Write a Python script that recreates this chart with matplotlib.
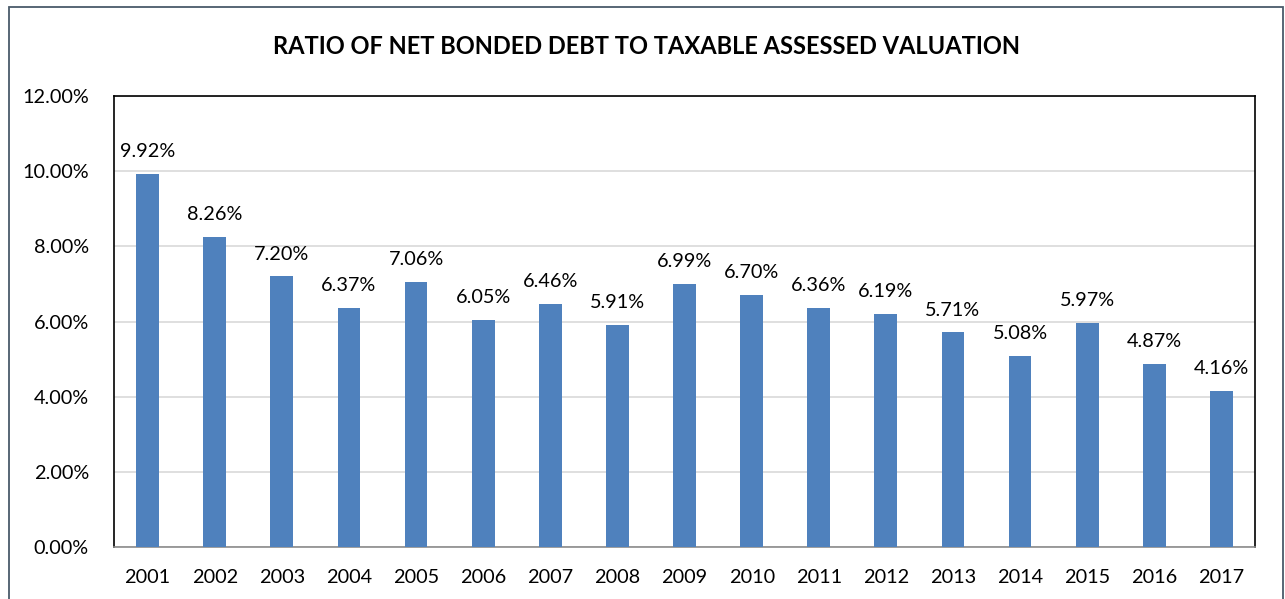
import matplotlib
matplotlib.use("Agg")
import matplotlib.pyplot as plt
from matplotlib.patches import Rectangle
from matplotlib.ticker import FuncFormatter, MultipleLocator

years = ["2001", "2002", "2003", "2004", "2005", "2006", "2007", "2008", "2009",
         "2010", "2011", "2012", "2013", "2014", "2015", "2016", "2017"]
ratios = [9.92, 8.26, 7.20, 6.37, 7.06, 6.05, 6.46, 5.91, 6.99,
          6.70, 6.36, 6.19, 5.71, 5.08, 5.97, 4.87, 4.16]
title = "RATIO OF NET BONDED DEBT TO TAXABLE ASSESSED VALUATION"

plt.rcParams['font.family'] = ['Lato', 'DejaVu Sans']

W, H = 1285, 599
fig = plt.figure(figsize=(W / 100, H / 100), dpi=100)
fig.patch.set_facecolor('white')

# outer chart border (extends below bottom edge)
fig.add_artist(Rectangle((9 / W, -0.05), (1283 - 9) / W, 1.05 - 7 / H,
                         transform=fig.transFigure, fill=False,
                         edgecolor='#4a5a6a', linewidth=1.3))

left, right, top, bottom = 114, 1255, 96, 547
ax = fig.add_axes([left / W, 1 - bottom / H, (right - left) / W, (bottom - top) / H])

x = range(len(years))
ax.bar(x, ratios, width=0.34, color='#4F81BD', zorder=3)
ax.set_xlim(-0.5, len(years) - 0.5)
ax.set_ylim(0, 12)
ax.yaxis.set_major_locator(MultipleLocator(2))
ax.yaxis.set_major_formatter(FuncFormatter(lambda v, p: f"{v:.2f}%"))
ax.set_xticks(list(x))
ax.set_xticklabels(years)
ax.grid(axis='y', color='#d9d9d9', linewidth=1.2, zorder=0)
ax.tick_params(axis='both', length=0, labelsize=14.3, colors='black')
ax.tick_params(axis='y', pad=18)
ax.tick_params(axis='x', pad=16)
for s in ax.spines.values():
    s.set_color('black')
    s.set_linewidth(1.2)
ax.spines['bottom'].set_color('#8c8c8c')

for xi, v in zip(x, ratios):
    ax.annotate(f"{v:.2f}%", (xi, v), xytext=(0, 10), textcoords='offset points',
                ha='center', va='bottom', fontsize=14.3)

fig.text(0.5 * (272 + 1021) / W, 1 - 46 / H, title, ha='center', va='center',
         fontsize=17, fontweight='bold')

fig.savefig("out.png", dpi=100)
